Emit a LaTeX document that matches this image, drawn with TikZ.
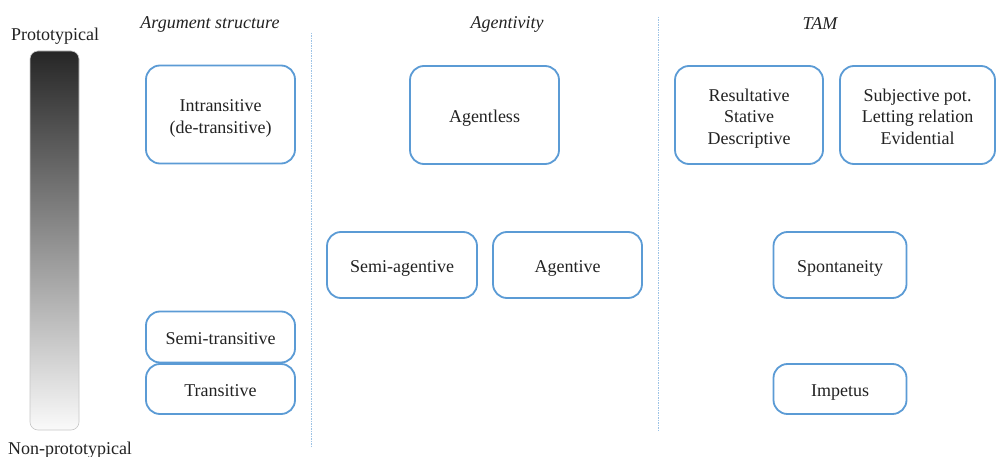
\documentclass[tikz,border=0pt]{standalone}
\usepackage{fontspec}
\setmainfont{Liberation Serif}
\newcommand\bxt[1]{\raisebox{-3.5pt}[\height][\depth]{\begin{tabular}{@{}c@{}}#1\end{tabular}}}
\begin{document}
\begin{tikzpicture}[x=1pt,y=-1pt,
  box/.style={draw=boxblue, line width=1.8pt, rounded corners=14pt, fill=white,
    text=txt, align=center, font=\fontsize{18}{21.5}\selectfont, inner sep=0pt},
  head/.style={text=txt, font=\fontsize{18}{21}\selectfont\itshape, inner sep=0pt},
  lab/.style={text=txt, font=\fontsize{18}{21}\selectfont, inner sep=0pt},
  sep/.style={draw=sepblue, line width=1pt, dash pattern=on 1.5pt off 1pt}]
\definecolor{boxblue}{HTML}{5B9BD5}
\definecolor{sepblue}{HTML}{9DC3E6}
\definecolor{txt}{HTML}{222222}
\useasboundingbox (0,0) rectangle (996,457);
\fill[white] (0,0) rectangle (996,457);
% gradient bar
\shade[top color=black!85, bottom color=black!2, rounded corners=8pt] (30,51) rectangle (79,430);
\draw[black!22, line width=0.6pt, rounded corners=8pt] (30,51) rectangle (79,430);
\node[lab] (proto) at (55,36) {Prototypical};
\node[lab] (nonproto) at (70,450) {Non-prototypical};
% headers
\node[head] (h1) at (210,24) {Argument structure};
\node[head] (h2) at (507,24) {Agentivity};
\node[head] (h3) at (820,24) {TAM};
% separators
\coordinate (s1a) at (311,33); \coordinate (s1b) at (311,446);
\coordinate (s2a) at (658,17); \coordinate (s2b) at (658,432);
\draw[sep] (s1a) -- (s1b);
\draw[sep] (s2a) -- (s2b);
% boxes
\node[box, minimum width=149pt, minimum height=98pt] (intr) at (220.5,114.5) {\bxt{Intransitive\\(de-transitive)}};
\node[box, minimum width=149pt, minimum height=51pt] (semitr) at (220.5,337) {\bxt{Semi-transitive}};
\node[box, minimum width=149pt, minimum height=50pt] (tr) at (220.5,389) {\bxt{Transitive}};
\node[box, minimum width=149pt, minimum height=98pt] (agl) at (484.5,115) {\bxt{Agentless}};
\node[box, minimum width=150pt, minimum height=66pt] (semiag) at (402,265) {\bxt{Semi-agentive}};
\node[box, minimum width=149pt, minimum height=66pt] (ag) at (567.5,265) {\bxt{Agentive}};
\node[box, minimum width=148pt, minimum height=98pt] (res) at (749,115) {\bxt{Resultative\\Stative\\Descriptive}};
\node[box, minimum width=155pt, minimum height=98pt] (subj) at (917.5,115) {\bxt{Subjective pot.\\Letting relation\\Evidential}};
\node[box, minimum width=133pt, minimum height=66pt] (spont) at (840,265) {\bxt{Spontaneity}};
\node[box, minimum width=133pt, minimum height=50pt] (imp) at (840,389) {\bxt{Impetus}};
\end{tikzpicture}
\end{document}
